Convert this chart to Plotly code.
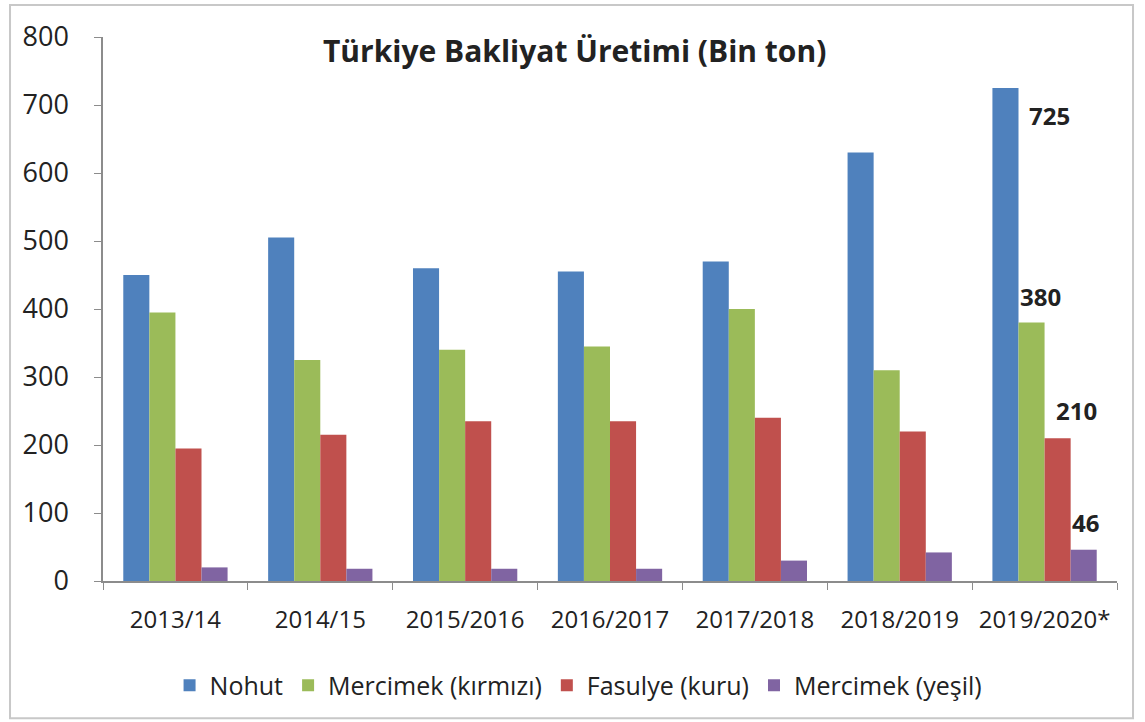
import plotly.graph_objects as go

categories = ["2013/14", "2014/15", "2015/2016", "2016/2017", "2017/2018", "2018/2019", "2019/2020*"]
nohut = [450, 505, 460, 455, 470, 630, 725]
mercimek_kirmizi = [395, 325, 340, 345, 400, 310, 380]
fasulye = [195, 215, 235, 235, 240, 220, 210]
mercimek_yesil = [20, 18, 18, 18, 30, 42, 46]

series = [
    ("Nohut", nohut, "#4F81BD"),
    ("Mercimek (kırmızı)", mercimek_kirmizi, "#9BBB59"),
    ("Fasulye (kuru)", fasulye, "#C0504D"),
    ("Mercimek (yeşil)", mercimek_yesil, "#8064A2"),
]

FONT = "Open Sans"
fig = go.Figure()
for name, vals, col in series:
    fig.add_trace(go.Bar(x=categories, y=vals, name=name, marker=dict(color=col, line=dict(width=0))))

# data labels on last category
label_shift = [(5, -27), (-4, 26), (32, 28), (41, 27)]
for (name, vals, col), (dx, dy) in zip(series, label_shift):
    fig.add_annotation(x=len(categories) - 1, y=vals[-1], xref="x", yref="y",
                       text=f"<b>{vals[-1]}</b>", showarrow=False,
                       xshift=dx, yshift=dy, font=dict(family=FONT, size=24, color="#222"))

fig.add_annotation(x=0.4645, y=0.976, xref="paper", yref="paper",
                   text="<b>Türkiye Bakliyat Üretimi (Bin ton)</b>", showarrow=False,
                   xanchor="center", yanchor="middle",
                   font=dict(family=FONT, size=30, color="#222"))

fig.add_shape(type="rect", xref="paper", yref="paper",
              x0=-0.0917, x1=1.0158, y0=-0.2525, y1=1.059,
              line=dict(color="#C8C8C8", width=2))

fig.update_layout(
    width=1145, height=722,
    margin=dict(l=103, r=28, t=37, b=141, autoexpand=False),
    paper_bgcolor="white", plot_bgcolor="white",
    barmode="group", bargap=0.28, bargroupgap=0,
    showlegend=True,
    legend=dict(orientation="h", x=0.469, xanchor="center", y=-0.192, yanchor="middle",
                font=dict(family=FONT, size=25, color="#222"), itemwidth=30,
                traceorder="normal"),
    font=dict(family=FONT, color="#222"),
)
fig.update_xaxes(showline=True, linecolor="#8C8C8C", linewidth=1.5,
                 ticks="outside", tickson="boundaries", ticklen=7, tickcolor="#8C8C8C",
                 ticklabelstandoff=16, tickangle=0,
                 tickfont=dict(family=FONT, size=24, color="#222"), showgrid=False)
fig.update_yaxes(range=[0, 800], dtick=100, showline=True, linecolor="#8C8C8C", linewidth=1.5,
                 ticks="outside", ticklen=7, tickcolor="#8C8C8C", showgrid=False,
                 zeroline=False, ticklabelstandoff=20,
                 tickfont=dict(family=FONT, size=27, color="#222"))

fig.write_html("out.html")
